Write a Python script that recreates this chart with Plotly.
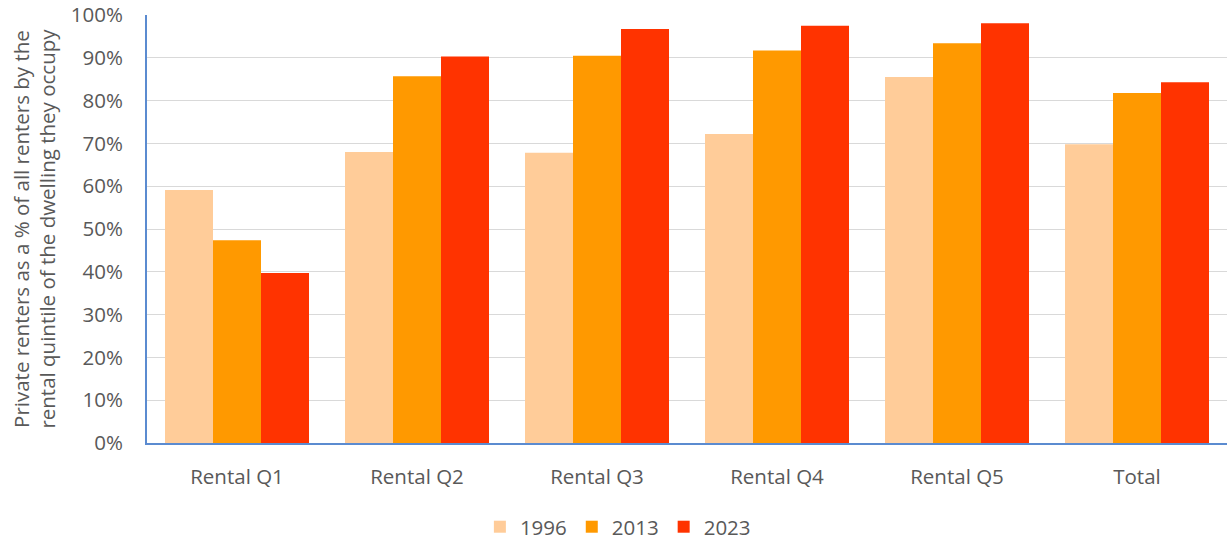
import plotly.graph_objects as go

categories = ["Rental Q1", "Rental Q2", "Rental Q3", "Rental Q4", "Rental Q5", "Total"]
years = ["1996", "2013", "2023"]
v1996 = [0.591, 0.680, 0.678, 0.722, 0.855, 0.698]
v2013 = [0.474, 0.857, 0.905, 0.917, 0.934, 0.818]
v2023 = [0.397, 0.903, 0.967, 0.975, 0.981, 0.843]
colors = ["#FFCC99", "#FF9900", "#FF3300"]
tick_vals = [i / 10 for i in range(11)]
tick_text = [f"{i*10}%" for i in range(11)]
y_title = "Private renters as a % of all renters by the<br>rental quintile of the dwelling they occupy"

fig = go.Figure()
for name, vals, col in zip(years, [v1996, v2013, v2023], colors):
    fig.add_trace(go.Bar(x=categories, y=vals, name=name, marker=dict(color=col, line=dict(width=0))))

font_family = "'Open Sans', sans-serif"
fs = 20.5
fig.update_layout(
    width=1232, height=540,
    margin=dict(l=147, r=5, t=15, b=97, autoexpand=False),
    barmode="group", bargap=0.2, bargroupgap=0,
    plot_bgcolor="white", paper_bgcolor="white",
    font=dict(family=font_family, size=fs, color="#595959"),
    showlegend=True,
    legend=dict(orientation="h", x=0.436, xanchor="center", y=-0.196, yanchor="middle",
                font=dict(size=fs, color="#595959"), itemwidth=30, traceorder="normal"),
    yaxis=dict(range=[0, 1.0], tickvals=tick_vals, ticktext=tick_text,
               showgrid=True, gridcolor="#D9D9D9", gridwidth=1.3,
               showline=True, linecolor="#5B8BD0", linewidth=2,
               ticks="", zeroline=False, automargin=False, ticklabelstandoff=18,
               tickfont=dict(size=fs, color="#595959")),
    xaxis=dict(showline=True, linecolor="#5B8BD0", linewidth=2, ticks="", automargin=False,
               ticklabelstandoff=14, tickfont=dict(size=fs, color="#595959")),
    annotations=[dict(text=y_title, textangle=-90, xref="paper", yref="paper",
                      x=-0.105, y=0.5, xanchor="center", yanchor="middle", showarrow=False,
                      font=dict(size=fs, color="#595959"))],
)
fig.write_html("out.html", config={"displayModeBar": False},
               post_script="document.body.style.margin='0';")
